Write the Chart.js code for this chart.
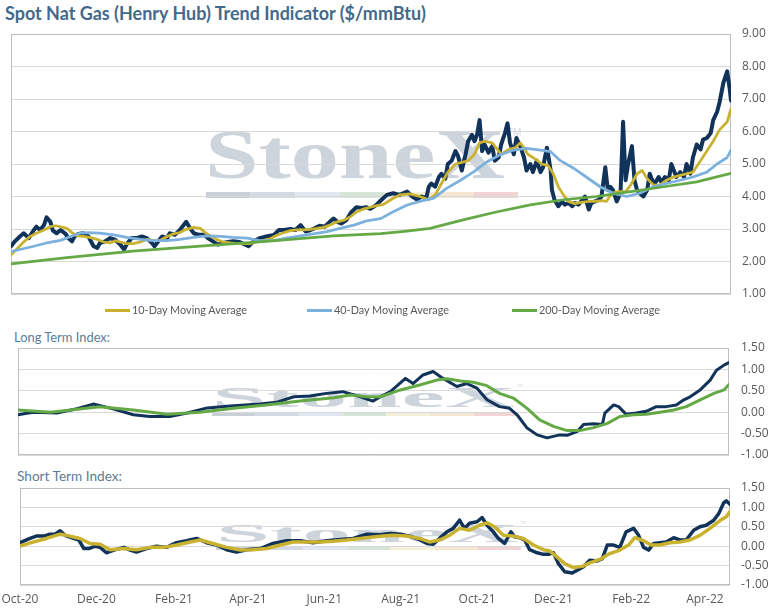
<!DOCTYPE html>
<html lang="en">
<head>
<meta charset="UTF-8">
<title>Spot Nat Gas (Henry Hub) Trend Indicator</title>
<script src="https://cdn.jsdelivr.net/npm/chart.js"></script>
<style>
  body { margin: 0; background: #fff; width: 775px; height: 611px; overflow: hidden; position: relative; font-family: Lato, "Open Sans", sans-serif; }
  canvas { position: absolute; left: 0; }
  .txt { position: absolute; white-space: nowrap; transform-origin: 0 50%; line-height: 1.2; }
  #title { left: 5px; top: 3px; font-weight: bold; font-size: 18px; color: #44698b; }
  .sub { font-size: 14px; color: #5b7d99; }
  .leg { position: absolute; top: 303px; height: 14px; line-height: 14px; font-size: 12px; color: #595959; white-space: nowrap; }
  .leg i { position: absolute; left: 0; top: 6px; width: 25px; height: 3px; }
  .leg span { position: absolute; left: 27px; top: 0; display: inline-block; transform-origin: 0 50%; }
</style>
</head>
<body>
<div id="title" class="txt">Spot Nat Gas (Henry Hub) Trend Indicator ($/mmBtu)</div>
<canvas id="mainChart" width="775" height="278" style="top:26px"></canvas>
<div id="legend"></div>
<div id="longTitle" class="txt sub" style="left:14px;top:329px">Long Term Index:</div>
<canvas id="longChart" width="775" height="125" style="top:340px"></canvas>
<div id="shortTitle" class="txt sub" style="left:17px;top:468px">Short Term Index:</div>
<canvas id="shortChart" width="775" height="131" style="top:480px"></canvas>

<script>
// x values are calendar days counted from 1 Oct 2020
const monthLabels = ['Oct-20', 'Dec-20', 'Feb-21', 'Apr-21', 'Jun-21', 'Aug-21', 'Oct-21', 'Dec-21', 'Feb-22', 'Apr-22'];
const monthDays = [0, 61, 123, 182, 243, 304, 365, 426, 488, 547];
const lastDay = 567;

// Henry Hub spot price ($/mmBtu)
const spotDay = [0,3,7,10,14,18,20,23,26,28,31,33,36,39,43,45,48,50,53,57,61,65,68,70,74,78,82,86,89,91,
  95,99,103,107,111,113,116,119,123,125,129,133,136,138,141,144,148,152,155,159,163,167,171,175,180,187,191,196,201,207,
  211,215,220,224,228,232,236,239,243,247,251,254,257,260,264,268,272,276,280,283,287,291,
  296,301,306,312,316,320,323,327,329,331,334,337,339,342,344,347,350,352,355,358,360,363,365,367,369,371,373,376,379,381,
  384,386,389,391,393,396,398,401,404,406,409,411,414,417,419,422,423,425,426,428,431,434,436,439,442,444,447,449,452,455,
  457,460,463,465,468,470,472,474,477,480,482,484,486,489,491,493,495,498,501,503,505,507,510,512,515,518,520,522,524,527,
  530,532,535,537,540,543,545,548,551,553,556,558,561,564,566,567];
const spotPrice = [2.47,2.62,2.77,2.87,2.72,2.97,3.07,2.97,3.12,3.36,3.22,2.95,2.87,2.97,2.85,2.72,2.62,2.77,2.85,2.87,
  2.77,2.47,2.42,2.57,2.62,2.72,2.67,2.52,2.37,2.52,2.72,2.72,2.77,2.72,2.57,2.47,2.62,2.77,2.72,2.87,
  2.82,2.97,3.12,3.22,3.02,2.87,2.82,2.82,2.72,2.62,2.52,2.57,2.6,2.62,2.6,2.47,2.62,2.72,2.77,2.82,
  2.97,2.97,3.0,2.97,3.12,2.92,2.97,3.02,3.1,3.07,3.22,3.32,3.22,3.17,3.27,3.52,3.67,3.65,3.67,3.62,3.72,3.87,
  4.05,4.1,4.05,4.15,4.0,3.9,4.0,3.95,4.3,4.4,4.3,4.6,4.7,4.55,5.0,5.1,5.4,5.25,4.8,5.3,
  5.7,5.9,5.7,5.9,6.35,5.4,5.6,5.35,5.55,5.1,5.2,5.6,5.95,6.25,5.65,5.3,5.8,5.55,5.2,4.8,
  5.0,4.75,5.1,4.75,4.9,5.5,5.3,4.8,4.2,3.9,3.7,3.85,3.75,3.8,3.7,3.8,3.75,3.85,4.0,3.6,
  3.8,3.85,3.9,4.0,4.9,4.2,4.3,4.2,3.85,4.1,6.3,4.5,5.0,5.55,4.5,4.2,4.1,4.0,4.2,4.7,
  4.5,4.4,4.6,4.45,4.6,4.5,5.0,4.8,4.6,4.75,4.6,5.0,4.7,5.2,5.6,5.45,5.75,5.8,5.95,6.35,
  6.6,6.9,7.5,7.85,7.3,6.95];

const ma10Day = [0,5,10,15,20,26,31,35,39,44,48,52,57,62,68,73,78,82,86,91,96,102,107,112,117,123,128,133,138,144,
  149,153,157,162,167,173,178,183,188,194,199,204,209,215,220,225,230,236,241,246,251,257,262,267,272,278,283,288,293,299,
  306,314,322,329,334,339,344,350,355,360,365,369,373,379,383,386,392,397,401,404,407,413,418,423,427,431,435,439,444,449,
  455,460,465,469,473,478,484,488,493,497,501,506,511,516,522,527,532,537,543,548,553,558,564,567];
const ma10 = [2.2,2.4,2.6,2.77,2.87,2.97,3.07,3.1,3.07,3.02,2.89,2.79,2.77,2.74,2.68,2.6,2.57,2.64,2.6,2.55,
  2.55,2.6,2.68,2.65,2.64,2.77,2.85,2.89,2.99,3.05,3.02,2.89,2.79,2.68,2.6,2.57,2.55,2.55,2.55,2.6,
  2.65,2.7,2.8,2.89,2.95,2.97,2.97,2.99,3.02,3.05,3.12,3.22,3.27,3.37,3.52,3.62,3.67,3.72,3.75,3.9,
  4.05,4.08,4.0,3.9,4.05,4.4,4.75,5.0,5.05,5.1,5.3,5.65,5.7,5.65,5.45,5.3,5.45,5.5,5.65,5.5,
  5.3,5.15,5.0,4.95,4.7,4.3,4.05,3.85,3.78,3.82,3.85,3.85,3.87,3.85,4.1,4.15,4.15,4.35,4.7,4.8,
  4.55,4.35,4.35,4.5,4.6,4.65,4.7,4.75,5.1,5.4,5.7,6.05,6.3,6.7];

const ma40Day = [0,7,18,28,39,47,54,62,70,81,91,102,112,123,133,144,154,165,175,186,196,207,217,228,238,249,259,270,280,291,
  301,312,322,333,343,354,364,375,385,396,406,417,425,432,443,453,464,474,485,495,506,516,527,537,548,556,564,567];
const ma40 = [2.3,2.37,2.47,2.57,2.65,2.77,2.87,2.89,2.87,2.82,2.74,2.68,2.64,2.64,2.68,2.74,2.79,2.77,2.74,2.72,
  2.64,2.64,2.72,2.79,2.85,2.92,3.02,3.12,3.25,3.32,3.53,3.74,3.85,3.95,4.25,4.5,4.75,5.07,5.28,5.43,
  5.48,5.43,5.38,5.12,4.87,4.6,4.3,4.1,4.0,4.1,4.3,4.4,4.5,4.6,4.75,5.0,5.2,5.43];

const ma200Day = [0,44,96,149,201,254,291,310,330,356,383,409,435,461,488,514,540,567];
const ma200 = [1.93,2.12,2.32,2.47,2.62,2.79,2.86,2.93,3.02,3.28,3.53,3.74,3.9,4.0,4.15,4.3,4.45,4.71];

// long term index and its average
const longDay = [0,12,31,47,60,73,92,105,121,135,151,172,193,206,220,233,246,259,273,283,289,297,309,315,323,331,339,350,358,366,
  374,384,392,398,406,414,422,432,438,446,451,459,466,468,475,479,485,493,501,509,517,525,531,536,544,552,557,563,567];
const longIdx = [-0.06,0.0,-0.02,0.08,0.19,0.1,-0.06,-0.1,-0.1,-0.02,0.1,0.15,0.19,0.23,0.36,0.38,0.44,0.48,0.36,0.26,
  0.36,0.48,0.79,0.67,0.87,0.95,0.79,0.6,0.67,0.56,0.29,0.13,0.09,-0.06,-0.37,-0.53,-0.6,-0.53,-0.54,-0.45,
  -0.29,-0.27,-0.29,-0.02,0.17,0.13,-0.05,-0.02,0.02,0.13,0.13,0.17,0.29,0.36,0.52,0.75,0.98,1.1,1.16];
const longMaDay = [0,26,65,92,119,145,172,198,225,252,265,278,289,305,321,334,342,353,363,374,384,395,406,416,427,438,448,459,470,480,
  491,501,512,523,533,544,555,563,567];
const longMa = [0.05,0.0,0.13,0.05,-0.05,0.0,0.09,0.17,0.26,0.34,0.40,0.36,0.36,0.52,0.64,0.75,0.78,0.73,0.7,0.62,
  0.44,0.33,0.09,-0.18,-0.33,-0.43,-0.43,-0.36,-0.26,-0.1,-0.06,-0.05,0.0,0.05,0.13,0.29,0.44,0.52,0.65];

// short term index and its average
const shortDay = [0,8,13,19,24,28,32,36,41,47,51,55,60,64,69,75,83,88,93,101,109,117,125,133,141,149,157,165,173,181,
  192,202,213,224,234,245,256,266,277,288,296,304,311,319,325,330,335,341,346,351,355,359,365,369,373,378,382,387,392,395,
  399,403,407,413,418,422,426,430,435,441,445,450,455,461,465,469,474,479,484,490,494,498,502,506,511,516,522,527,532,538,
  543,548,554,558,562,564,567];
const shortIdx = [0.09,0.2,0.26,0.26,0.31,0.31,0.4,0.28,0.22,0.16,-0.06,-0.06,0.0,-0.03,-0.17,-0.1,-0.03,-0.1,-0.15,-0.06,
  0.0,-0.03,0.09,0.14,0.2,0.09,0.03,-0.09,-0.15,-0.09,-0.06,0.07,0.14,0.14,0.09,0.14,0.17,0.2,0.31,0.3,
  0.33,0.31,0.26,0.17,0.07,0.05,0.2,0.37,0.46,0.67,0.46,0.59,0.63,0.74,0.54,0.37,0.2,0.07,0.37,0.24,
  0.22,0.16,-0.09,-0.17,-0.21,-0.21,-0.17,-0.45,-0.66,-0.69,-0.62,-0.53,-0.36,-0.38,-0.32,0.03,0.03,-0.03,0.37,0.46,
  0.28,-0.03,-0.1,0.07,0.09,0.11,0.22,0.16,0.16,0.41,0.5,0.54,0.67,0.84,1.12,1.17,1.08];
const shortMaDay = [0,11,21,32,37,48,56,64,72,83,93,104,115,125,136,144,154,165,176,186,197,208,218,229,240,250,261,272,282,290,
  298,309,319,327,335,343,351,359,367,373,379,386,394,402,410,418,423,429,435,442,449,455,463,471,479,486,491,498,504,511,
  519,527,535,543,551,559,564,567];
const shortMa = [0.0,0.11,0.2,0.31,0.28,0.2,0.07,0.05,-0.09,-0.06,-0.09,-0.03,-0.03,0.03,0.11,0.16,0.07,-0.03,-0.1,-0.09,
  -0.06,0.03,0.11,0.11,0.11,0.13,0.16,0.2,0.24,0.26,0.28,0.26,0.2,0.11,0.16,0.28,0.46,0.41,0.54,0.6,
  0.5,0.28,0.26,0.2,0.03,-0.09,-0.12,-0.28,-0.45,-0.55,-0.52,-0.43,-0.34,-0.19,-0.1,0.03,0.22,0.14,0.03,0.03,
  0.09,0.11,0.16,0.28,0.46,0.66,0.76,0.89];

const NAVY = '#11335a', GOLD = '#c9b22f', BLUE = '#7cb0dd', GREEN = '#64a945';
const TICK_FONT = { family: 'Open Sans', size: 12 };
const STRIP = ['#c9d0d7', '#d2dae3', '#dfe8f1', '#d6e4d6', '#f4f1d9', '#f6e7d2', '#f1d5d5'];

// faint logo behind the plot and a box round the plot area
const decor = {
  id: 'decor',
  beforeDraw(chart, args, o) {
    const ctx = chart.ctx;
    ctx.save();
    ctx.font = 'bold 100px "Liberation Serif"';
    const w = ctx.measureText('StoneX').width;
    ctx.translate(o.x, o.base);
    ctx.scale(o.w / w, (o.base - o.top) / 66);
    ctx.fillStyle = '#cdd4dc';
    ctx.fillText('StoneX', 0, 0);
    ctx.restore();
    ctx.save();
    ctx.fillStyle = '#d3d9df';
    ctx.font = Math.round((o.base - o.top) * 0.22) + 'px "Liberation Sans"';
    ctx.textBaseline = 'top';
    ctx.fillText('TM', o.x + o.w + 2, o.top - 4);
    const sw = o.stripW / STRIP.length;
    STRIP.forEach((c, i) => {
      ctx.fillStyle = c;
      ctx.fillRect(o.stripX + i * sw, o.stripTop, sw, o.stripH);
    });
    ctx.restore();
  },
  beforeDatasetsDraw(chart) {
    const {ctx, chartArea: a} = chart;
    ctx.save();
    ctx.strokeStyle = '#bfbfbf';
    ctx.lineWidth = 1;
    ctx.strokeRect(a.left + 0.5, a.top + 0.5, a.right - a.left - 1, a.bottom - a.top - 1);
    ctx.restore();
  }
};

function line(label, xs, ys, color, width, order) {
  return {
    label, order,
    data: xs.map((x, i) => ({x, y: ys[i]})),
    borderColor: color, backgroundColor: color, borderWidth: width,
    pointRadius: 0, tension: 0, borderJoinStyle: 'round', borderCapStyle: 'round'
  };
}

function makeChart(id, datasets, p) {
  const xScale = {
    type: 'linear', min: 0, max: lastDay, display: !!p.showX,
    grid: { display: false, drawTicks: true, tickLength: 7 }, border: { display: false }
  };
  if (p.showX) {
    xScale.afterBuildTicks = s => { s.ticks = monthDays.map(v => ({value: v})); };
    xScale.afterFit = s => { s.height = 26; };
    xScale.ticks = {
      autoSkip: false, maxRotation: 0, padding: 0, color: '#595959', font: TICK_FONT,
      callback: v => monthLabels[monthDays.indexOf(v)]
    };
  }
  return new Chart(document.getElementById(id), {
    type: 'line',
    data: { datasets },
    plugins: [decor],
    options: {
      responsive: false, animation: false, events: [],
      layout: { padding: { left: p.left, right: 0, top: 8, bottom: p.bottom } },
      scales: {
        x: xScale,
        y: {
          position: 'right', min: p.min, max: p.max,
          afterFit: s => { s.width = p.axisW; },
          ticks: { stepSize: p.step, autoSkip: false, padding: 0, color: '#595959', font: TICK_FONT, callback: v => v.toFixed(2) },
          grid: { color: '#d9d9d9', drawTicks: true, tickLength: p.tickPad, tickColor: 'rgba(0,0,0,0)' },
          border: { display: false }
        }
      },
      plugins: { legend: { display: false }, tooltip: { enabled: false }, decor: p.wm }
    }
  });
}

const mainChart = makeChart('mainChart', [
  line('Spot', spotDay, spotPrice, NAVY, 4, 4),
  line('10-Day Moving Average', ma10Day, ma10, GOLD, 2.75, 3),
  line('40-Day Moving Average', ma40Day, ma40, BLUE, 2.75, 2),
  line('200-Day Moving Average', ma200Day, ma200, GREEN, 2.75, 1)
], { left: 11, axisW: 44, bottom: 10, min: 1, max: 9, step: 1, tickPad: 11,
     wm: { x: 205, w: 300, top: 106, base: 152, stripX: 206, stripW: 312, stripTop: 166, stripH: 6 } });

makeChart('longChart', [
  line('Long Term Index', longDay, longIdx, NAVY, 3, 2),
  line('Long Term Average', longMaDay, longMa, GREEN, 3, 1)
], { left: 18, axisW: 46, bottom: 10, min: -1, max: 1.5, step: 0.5, tickPad: 12,
     wm: { x: 212, w: 303, top: 48, base: 67, stripX: 212, stripW: 305, stripTop: 72, stripH: 4 } });

makeChart('shortChart', [
  line('Short Term Index', shortDay, shortIdx, NAVY, 3.5, 2),
  line('Short Term Average', shortMaDay, shortMa, GOLD, 3.5, 1)
], { left: 20, axisW: 45, bottom: 0, min: -1, max: 1.5, step: 0.5, tickPad: 11, showX: true,
     wm: { x: 216, w: 302, top: 45, base: 62, stripX: 216, stripW: 305, stripTop: 66, stripH: 4 } });

// legend for the moving averages, built from the main chart's datasets
const legendLeft = [105, 307, 512];
const legendTextW = [115, 115, 121];
const legend = document.getElementById('legend');
mainChart.data.datasets.slice(1).forEach((ds, i) => {
  const item = document.createElement('div');
  item.className = 'leg';
  item.style.left = legendLeft[i] + 'px';
  item.innerHTML = '<i style="background:' + ds.borderColor + '"></i><span>' + ds.label + '</span>';
  legend.appendChild(item);
  const span = item.querySelector('span');
  span.style.transform = 'scaleX(' + (legendTextW[i] / span.getBoundingClientRect().width) + ')';
});

// squeeze the header texts to the widths they have in the original
function fitWidth(id, w) {
  const el = document.getElementById(id);
  el.style.transform = 'scaleX(' + (w / el.getBoundingClientRect().width) + ')';
}
fitWidth('title', 421);
fitWidth('longTitle', 96);
fitWidth('shortTitle', 105);
</script>
</body>
</html>
